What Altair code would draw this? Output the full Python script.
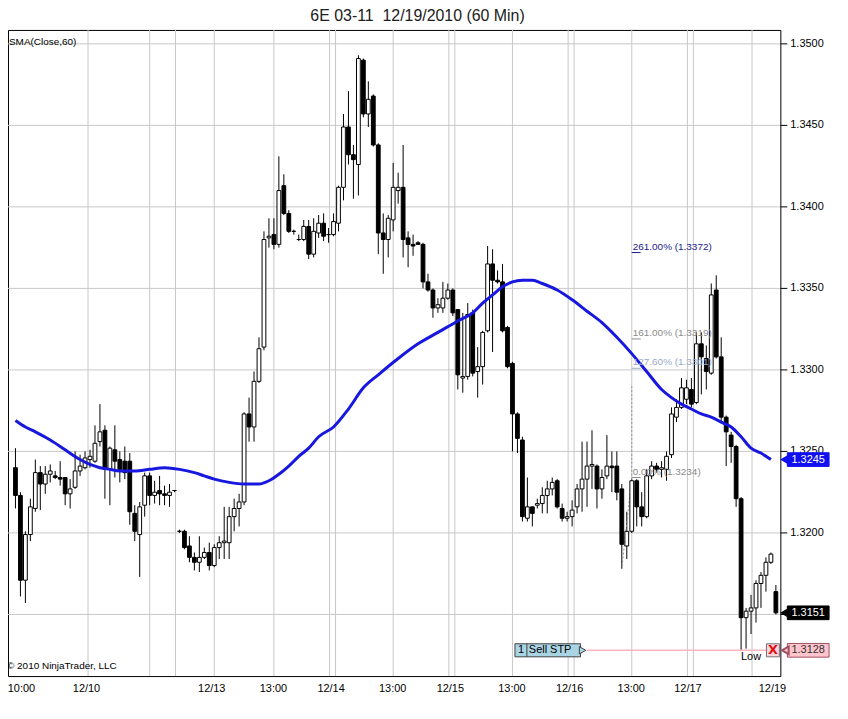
import altair as alt
import pandas as pd

# ---------------- data ----------------
opens = [1.3240,1.3223,1.3171,1.3199,1.3215,1.3237,1.3230,1.3236,1.3235,1.3234,
         1.3234,1.3224,1.3228,1.3238,1.3240,1.3245,1.3244,1.3256,1.3263,1.3239,
         1.3251,1.3245,1.3244,1.3244,1.3212,1.3199,1.3217,1.3235,1.3223,1.3226,
         1.3224,1.3223,1.3226,1.3201,1.3201,1.3192,1.3185,1.3182,1.3185,1.3188,
         1.3180,1.3191,1.3194,1.3194,1.3210,1.3215,1.3219,1.3273,1.3265,1.3293,
         1.3314,1.3381,1.3383,1.3377,1.3413,1.3396,1.3385,1.3380,1.3380,1.3388,
         1.3371,1.3384,1.3390,1.3383,1.3383,1.3390,1.3412,1.3449,1.3432,1.3426,
         1.3490,1.3457,1.3468,1.3438,1.3384,1.3380,1.3392,1.3410,1.3412,1.3381,
         1.3377,1.3378,1.3377,1.3354,1.3349,1.3338,1.3338,1.3344,1.3349,1.3337,
         1.3295,1.3296,1.3335,1.3299,1.3302,1.3324,1.3365,1.3355,1.3354,1.3326,
         1.3304,1.3273,1.3257,1.3209,1.3216,1.3217,1.3218,1.3223,1.3227,1.3232,
         1.3215,1.3209,1.3210,1.3216,1.3227,1.3233,1.3241,1.3241,1.3227,1.3235,
         1.3241,1.3241,1.3227,1.3192,1.3201,1.3232,1.3216,1.3210,1.3235,1.3241,
         1.3239,1.3239,1.3248,1.3271,1.3277,1.3282,1.3288,1.3280,1.3316,1.3307,
         1.3298,1.3349,1.3308,1.3271,1.3260,1.3253,1.3221,1.3148,1.3152,1.3154,
         1.3169,1.3174,1.3182,1.3164]
closes = [1.3223,1.3171,1.3199,1.3216,1.3237,1.3230,1.3236,1.3238,1.3234,1.3233,
          1.3224,1.3227,1.3238,1.3241,1.3246,1.3247,1.3255,1.3262,1.3239,1.3252,
          1.3244,1.3239,1.3237,1.3213,1.3201,1.3216,1.3235,1.3223,1.3225,1.3224,
          1.3223,1.3225,1.3226,1.3201,1.3191,1.3185,1.3182,1.3185,1.3188,1.3180,
          1.3191,1.3194,1.3195,1.3210,1.3215,1.3219,1.3273,1.3265,1.3293,1.3313,
          1.3380,1.3382,1.3377,1.3410,1.3396,1.3385,1.3385,1.3380,1.3388,1.3371,
          1.3385,1.3390,1.3382,1.3383,1.3391,1.3412,1.3449,1.3432,1.3429,1.3491,
          1.3457,1.3466,1.3438,1.3384,1.3380,1.3393,1.3412,1.3412,1.3380,1.3377,
          1.3376,1.3377,1.3354,1.3349,1.3338,1.3340,1.3344,1.3349,1.3335,1.3297,
          1.3296,1.3334,1.3298,1.3302,1.3323,1.3365,1.3355,1.3354,1.3324,1.3302,
          1.3273,1.3258,1.3210,1.3216,1.3212,1.3218,1.3223,1.3227,1.3231,1.3216,
          1.3209,1.3210,1.3214,1.3227,1.3233,1.3241,1.3242,1.3227,1.3234,1.3241,
          1.3240,1.3225,1.3193,1.3201,1.3232,1.3216,1.3210,1.3235,1.3241,1.3239,
          1.3240,1.3247,1.3273,1.3277,1.3289,1.3289,1.3279,1.3316,1.3308,1.3299,
          1.3346,1.3308,1.3271,1.3262,1.3253,1.3221,1.3148,1.3152,1.3154,1.3169,
          1.3174,1.3182,1.3187,1.3151]
highs = [1.3252,1.3225,1.3201,1.3221,1.3245,1.3241,1.3241,1.3242,1.3238,1.3244,
         1.3234,1.3233,1.3250,1.3248,1.3250,1.3251,1.3266,1.3279,1.3266,1.3253,
         1.3266,1.3250,1.3253,1.3249,1.3217,1.3219,1.3237,1.3237,1.3232,1.3235,
         1.3229,1.3230,1.3226,1.3202,1.3202,1.3198,1.3188,1.3198,1.3191,1.3194,
         1.3193,1.3198,1.3216,1.3216,1.3221,1.3224,1.3274,1.3283,1.3299,1.3320,
         1.3385,1.3393,1.3393,1.3431,1.3420,1.3398,1.3386,1.3383,1.3392,1.3392,
         1.3393,1.3395,1.3396,1.3387,1.3396,1.3413,1.3457,1.3471,1.3438,1.3493,
         1.3491,1.3477,1.3469,1.3439,1.3396,1.3395,1.3427,1.3421,1.3438,1.3385,
         1.3383,1.3379,1.3378,1.3359,1.3350,1.3344,1.3354,1.3353,1.3350,1.3337,
         1.3335,1.3341,1.3337,1.3314,1.3324,1.3376,1.3374,1.3361,1.3365,1.3327,
         1.3305,1.3274,1.3259,1.3234,1.3216,1.3221,1.3228,1.3232,1.3234,1.3233,
         1.3218,1.3213,1.3220,1.3230,1.3256,1.3256,1.3263,1.3242,1.3239,1.3260,
         1.3250,1.3250,1.3230,1.3213,1.3233,1.3233,1.3225,1.3239,1.3244,1.3243,
         1.3244,1.3250,1.3277,1.3282,1.3295,1.3294,1.3295,1.3323,1.3323,1.3315,
         1.3353,1.3358,1.3320,1.3272,1.3262,1.3254,1.3222,1.3154,1.3162,1.3171,
         1.3176,1.3185,1.3188,1.3168]
lows = [1.3215,1.3161,1.3157,1.3195,1.3213,1.3214,1.3224,1.3231,1.3233,1.3229,
        1.3217,1.3215,1.3227,1.3235,1.3239,1.3240,1.3243,1.3253,1.3221,1.3217,
        1.3234,1.3231,1.3233,1.3205,1.3195,1.3173,1.3210,1.3217,1.3218,1.3217,
        1.3217,1.3216,1.3225,1.3200,1.3190,1.3182,1.3177,1.3176,1.3184,1.3177,
        1.3179,1.3184,1.3184,1.3184,1.3201,1.3204,1.3217,1.3256,1.3256,1.3292,
        1.3312,1.3375,1.3374,1.3375,1.3395,1.3384,1.3383,1.3379,1.3379,1.3368,
        1.3369,1.3381,1.3379,1.3378,1.3382,1.3385,1.3404,1.3426,1.3405,1.3407,
        1.3455,1.3449,1.3437,1.3371,1.3359,1.3369,1.3385,1.3402,1.3369,1.3363,
        1.3370,1.3377,1.3350,1.3348,1.3332,1.3335,1.3335,1.3343,1.3333,1.3288,
        1.3286,1.3294,1.3296,1.3283,1.3291,1.3323,1.3311,1.3353,1.3323,1.3301,
        1.3250,1.3249,1.3207,1.3207,1.3204,1.3215,1.3212,1.3212,1.3223,1.3215,
        1.3207,1.3207,1.3204,1.3212,1.3213,1.3216,1.3227,1.3215,1.3221,1.3233,
        1.3225,1.3220,1.3178,1.3184,1.3200,1.3204,1.3204,1.3209,1.3233,1.3237,
        1.3234,1.3232,1.3246,1.3268,1.3276,1.3279,1.3277,1.3279,1.3285,1.3288,
        1.3297,1.3307,1.3268,1.3241,1.3243,1.3216,1.3128,1.3129,1.3138,1.3145,
        1.3154,1.3164,1.3181,1.3150]
bars = list(range(len(opens)))

sma_bars = [0,2,4,7,10,13,15,17,19,21,24,27,30,33,36,38,40,43,46,49,51,53,55,57,59,61,
            64,67,70,73,77,81,85,89,92,94,96,98,100,102,104,106,109,112,115,118,121,124,
            127,130,132,134,136,138,140,142,144,146,148,150,152]
sma_values = [1.3269,1.3265,1.3262,1.3257,1.3251,1.3245,1.3242,1.3240,1.3239,1.3238,1.3238,
              1.3239,1.3240,1.3239,1.3237,1.3235,1.3233,1.3231,1.3230,1.3230,1.3232,1.3236,
              1.3241,1.3247,1.3252,1.3259,1.3265,1.3276,1.3289,1.3297,1.3307,1.3316,1.3323,
              1.3330,1.3335,1.3341,1.3346,1.3351,1.3354,1.3355,1.3355,1.3353,1.3349,1.3343,
              1.3336,1.3329,1.3320,1.3310,1.3299,1.3288,1.3283,1.3279,1.3276,1.3273,1.3271,
              1.3268,1.3265,1.3259,1.3252,1.3249,1.3245]

price_ticks = [1.3150, 1.3200, 1.3250, 1.3300, 1.3350, 1.3400, 1.3450, 1.3500]
# labels visible on the right axis (1.3150 lies fully under the last-price box)
price_tick_labels = [1.3200, 1.3250, 1.3300, 1.3350, 1.3400, 1.3450, 1.3500]
grid_bars = [14.6, 27, 32.2, 40, 52, 63.2, 64.4, 76, 87.2, 88.4, 100, 111.2, 112.4,
             124, 135.2, 136.4, 148.2]
tick_bars = [0] + grid_bars + [153]
time_labels = ["10:00", "12/10", "12/13", "13:00", "12/14", "13:00", "12/15",
               "13:00", "12/16", "13:00", "12/17", "12/19"]
time_label_bars = [1.2, 14.3, 39.5, 51.9, 63.5, 75.9, 87.5, 99.9, 111.5, 123.9, 135.3, 152.3]

fib_labels = ["261.00% (1.3372)", "161.00% (1.3319)", "127.60% (1.3301)", "0.00% (1.3234)"]
fib_levels = [1.3372, 1.3319, 1.3301, 1.3234]
fib_anchor_bar = 124
fib_path_x = [124, 124]
fib_path_x2 = [124, 122]
fib_path_y = [1.3290, 1.3234]
fib_path_y2 = [1.3234, 1.3178]

marker_labels = ["1.3245", "1.3151", "1.3128"]
marker_values = [1.3245, 1.3151, 1.3128]

order_price = 1.3128
order_qty = "1"
order_name = "Sell STP"
low_label_bar = 148

title_text = "6E 03-11\u00a0 12/19/2010 (60 Min)"

# ---------------- chart ----------------
W, H = 777, 650
FONT = "Liberation Sans"

xs = alt.Scale(domain=[-1.5, 153.9], nice=False, zero=False)
ys = alt.Scale(domain=[1.31122, 1.350854], nice=False, zero=False)

candles = pd.DataFrame({"bar": bars, "open": opens, "high": highs, "low": lows, "close": closes})

x_axis = alt.Axis(values=tick_bars, labels=False, grid=False, ticks=True, tickSize=5,
                  tickColor="black", domainColor="black", title=None, orient="bottom")

def X(f, axis=None):
    return alt.X(f, scale=xs, axis=axis)

def Y(f):
    return alt.Y(f, scale=ys, axis=None)

# grid and right price axis
vgrid = alt.Chart(pd.DataFrame({"g": grid_bars})).mark_rule(color="#c8c8c8", strokeWidth=1).encode(
    x=X("g:Q"))
pt_df = pd.DataFrame({"p": price_ticks})
hgrid = alt.Chart(pt_df).mark_rule(color="#c8c8c8", strokeWidth=1).encode(
    y=Y("p:Q"), x=alt.value(0), x2=alt.value(W))
ytick = alt.Chart(pt_df).mark_rule(color="black", strokeWidth=1).encode(
    y=Y("p:Q"), x=alt.value(W), x2=alt.value(W + 7))
ylab = alt.Chart(pd.DataFrame({"p": price_tick_labels})).transform_calculate(
    lab="format(datum.p, '.4f')").mark_text(
    font=FONT, fontSize=11, color="black", align="left").encode(
    y=Y("p:Q"), x=alt.value(W + 10), text="lab:N")

wicks = alt.Chart(candles).mark_rule(color="black", strokeWidth=1).encode(
    x=X("bar:Q", x_axis), y=Y("low:Q"), y2="high:Q")

bodies = alt.Chart(candles).transform_calculate(
    x1="datum.bar - 0.38", x2="datum.bar + 0.38"
).mark_rect(stroke="black", strokeWidth=1).encode(
    x=X("x1:Q"), x2="x2:Q", y=Y("open:Q"), y2="close:Q",
    fill=alt.condition(alt.datum.close >= alt.datum.open, alt.value("white"), alt.value("black")))

sma = alt.Chart(pd.DataFrame({"bar": sma_bars, "v": sma_values})).mark_line(
    color="#1717e0", strokeWidth=3, interpolate="monotone").encode(x=X("bar:Q"), y=Y("v:Q"))

# Fibonacci annotations
fib_colors = ["#1a1a8c", "#8a8a8a", "#9aaac8", "#8a8a8a"]
fib_df = pd.DataFrame({"label": fib_labels, "level": fib_levels, "bar": fib_anchor_bar})
fib_scale = alt.Scale(domain=fib_labels, range=fib_colors)
fib_text = alt.Chart(fib_df).mark_text(align="left", baseline="bottom", dx=1, dy=-1,
                                       font=FONT, fontSize=10).encode(
    x=X("bar:Q"), y=Y("level:Q"), text="label:N",
    color=alt.Color("label:N", scale=fib_scale, legend=None))
fib_under = alt.Chart(fib_df).transform_calculate(b2="datum.bar + 1.8").mark_rule(strokeWidth=1).encode(
    x=X("bar:Q"), x2="b2:Q", y=Y("level:Q"),
    color=alt.Color("label:N", scale=fib_scale, legend=None))
fib_path = alt.Chart(pd.DataFrame({"a": fib_path_x, "b": fib_path_x2, "p": fib_path_y, "q": fib_path_y2})
                     ).mark_rule(color="#909090", strokeDash=[2, 2], strokeWidth=1).encode(
    x=X("a:Q"), x2="b:Q", y=Y("p:Q"), y2="q:Q")

# Order line (Sell STP)
odf = pd.DataFrame({"p": [order_price], "qty": [order_qty], "name": [order_name]})
order_line = alt.Chart(odf).transform_calculate(a="114.9", b="151.1").mark_rule(
    color="#ffb4c2", strokeWidth=1.5).encode(x=X("a:Q"), x2="b:Q", y=Y("p:Q"))
order_box = alt.Chart(odf).transform_calculate(
    a="100.5", b="113.7", top="datum.p + 0.00040", bot="datum.p - 0.00040"
).mark_rect(fill="#a9d4e3", stroke="#404040", strokeWidth=1).encode(
    x=X("a:Q"), x2="b:Q", y=Y("top:Q"), y2="bot:Q")
order_tip = alt.Chart(odf).transform_calculate(a="114.1").mark_point(
    shape="triangle-right", filled=True, fill="#a9d4e3", stroke="#404040", strokeWidth=1,
    size=55, opacity=1).encode(x=X("a:Q"), y=Y("p:Q"))
order_div = alt.Chart(odf).transform_calculate(
    a="102.9", top="datum.p + 0.00040", bot="datum.p - 0.00040").mark_rule(
    color="#404040", strokeWidth=1).encode(x=X("a:Q"), y=Y("top:Q"), y2="bot:Q")
order_qty_t = alt.Chart(odf).transform_calculate(a="101.7").mark_text(
    font=FONT, fontSize=11, color="black").encode(x=X("a:Q"), y=Y("p:Q"), text="qty:N")
order_name_t = alt.Chart(odf).transform_calculate(a="103.3").mark_text(
    font=FONT, fontSize=11, color="black", align="left").encode(
    x=X("a:Q"), y=Y("p:Q"), text="name:N")
xbox = alt.Chart(odf).transform_calculate(
    a="151.1", b="153.7", top="datum.p + 0.00040", bot="datum.p - 0.00040"
).mark_rect(fill="#ffd4dc", stroke="#707070", strokeWidth=1).encode(
    x=X("a:Q"), x2="b:Q", y=Y("top:Q"), y2="bot:Q")
xmark = alt.Chart(odf).transform_calculate(a="152.4", t="'X'").mark_text(
    font="DejaVu Sans", fontSize=13, fontWeight="bold", color="#e01010").encode(
    x=X("a:Q"), y=Y("p:Q"), text="t:N")
low_text = alt.Chart(odf).transform_calculate(a=str(low_label_bar), t="'Low'").mark_text(
    font=FONT, fontSize=11, color="black", baseline="top", dy=1).encode(
    x=X("a:Q"), y=Y("p:Q"), text="t:N")

# Right-side price markers (one layer group per marker, styles kept apart from data)
marker_styles = [("#1010f0", "#1010f0", "white"), ("#000000", "#000000", "white"),
                 ("#ffc4cc", "#a05060", "#303030")]
marker_layers = []
for lab, val, (fill, stroke, tcol) in zip(marker_labels, marker_values, marker_styles):
    md = pd.DataFrame({"label": [lab], "value": [val]})
    marker_layers.append(alt.Chart(md).transform_calculate(
        top="datum.value + 0.00042", bot="datum.value - 0.00042").mark_rect(
        fill=fill, stroke=stroke, strokeWidth=1).encode(
        x=alt.value(W + 7), x2=alt.value(W + 49), y=Y("top:Q"), y2="bot:Q"))
    marker_layers.append(alt.Chart(md).mark_point(
        shape="triangle-left", filled=True, size=60, opacity=1, fill=fill, stroke=stroke).encode(
        x=alt.value(W + 5), y=Y("value:Q")))
    marker_layers.append(alt.Chart(md).mark_text(font=FONT, fontSize=11, color=tcol).encode(
        x=alt.value(W + 28), y=Y("value:Q"), text="label:N"))

# Bottom time labels
tdf = pd.DataFrame({"bar": time_label_bars, "t": time_labels})
time_text = alt.Chart(tdf).mark_text(font=FONT, fontSize=11, color="black").encode(
    x=X("bar:Q"), y=alt.value(H + 13), text="t:N")

# Free texts
title = alt.Chart(pd.DataFrame({"t": [title_text]})).mark_text(
    font=FONT, fontSize=16, color="#202020").encode(
    x=alt.value(412), y=alt.value(-14), text="t:N")
sma_label = alt.Chart(pd.DataFrame({"t": ["SMA(Close,60)"]})).mark_text(
    font=FONT, fontSize=10, color="black", align="left").encode(
    x=alt.value(1), y=alt.value(12), text="t:N")
copyright_t = alt.Chart(pd.DataFrame({"t": ["\u00a9 2010 NinjaTrader, LLC"]})).mark_text(
    font=FONT, fontSize=10, color="black", align="left").encode(
    x=alt.value(-1), y=alt.value(H - 10), text="t:N")

chart = alt.layer(
    hgrid, vgrid, ytick, ylab, wicks, order_line, fib_path, fib_under, bodies, sma, fib_text,
    order_box, order_tip, order_div, order_qty_t, order_name_t, xbox, xmark, low_text,
    *marker_layers, time_text, title, sma_label, copyright_t
).properties(
    width=W, height=H,
    autosize=alt.AutoSizeParams(type="none"),
    padding={"left": 0, "top": 20, "right": 60, "bottom": 22},
    background="white",
).configure_view(stroke="black", strokeWidth=1)

chart.save("out.html", embed_options={"renderer": "svg", "actions": False})
